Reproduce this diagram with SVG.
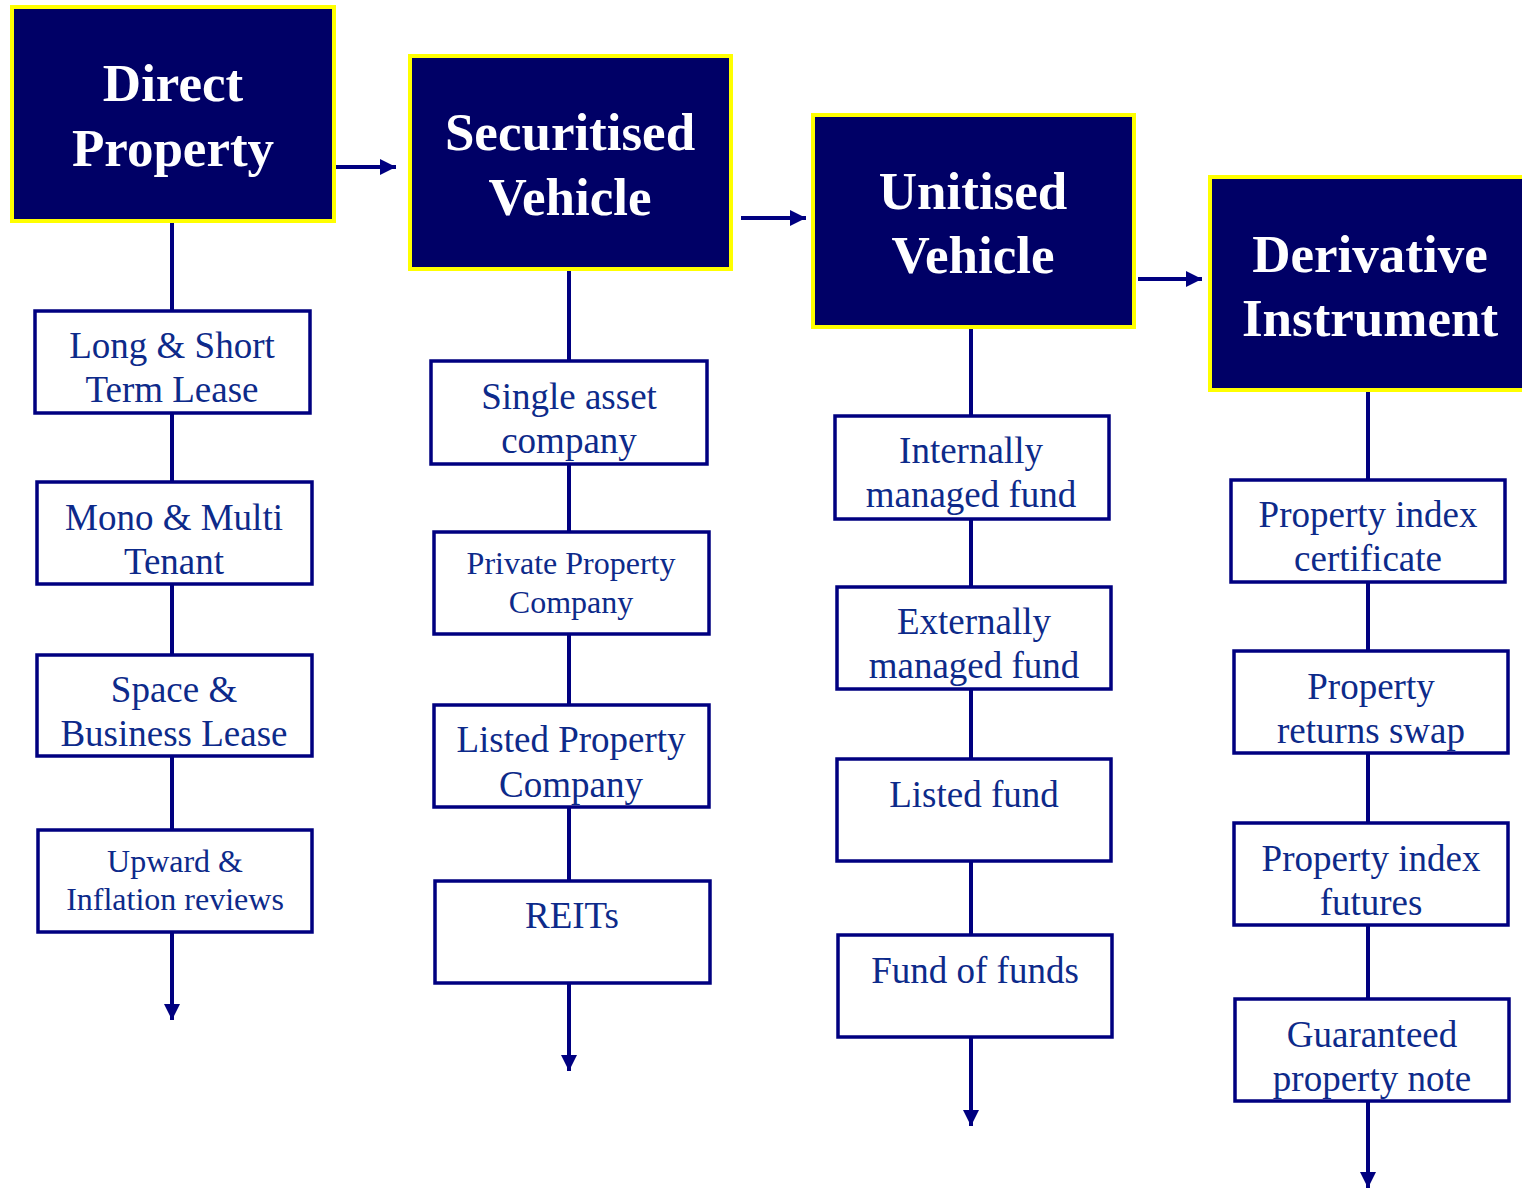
<svg xmlns="http://www.w3.org/2000/svg" width="1522" height="1189" viewBox="0 0 1522 1189">
<style>
.hdr{fill:#000066;stroke:#FFFF00;stroke-width:4}
.ht{font-family:"Liberation Serif",serif;font-weight:bold;font-size:53px;fill:#FFFFFF;text-anchor:middle}
.box{fill:#FFFFFF;stroke:#000080;stroke-width:3.5}
.bt{font-family:"Liberation Serif",serif;font-size:37px;fill:#0D2A8A;text-anchor:middle}
.bs{font-family:"Liberation Serif",serif;font-size:32px;fill:#0D2A8A;text-anchor:middle}
.ln{stroke:#000080;stroke-width:4;fill:none}
</style>
<defs>
<marker id="ah" markerUnits="userSpaceOnUse" markerWidth="16" markerHeight="16" refX="16" refY="8" orient="auto">
<path d="M0,0 L16,8 L0,16 Z" fill="#000080"/>
</marker>
</defs>
<g id="connectors">
<line class="ln" x1="334" y1="167" x2="396" y2="167" marker-end="url(#ah)"/>
<line class="ln" x1="741" y1="218" x2="806" y2="218" marker-end="url(#ah)"/>
<line class="ln" x1="1138" y1="279" x2="1202" y2="279" marker-end="url(#ah)"/>
<line class="ln" x1="172" y1="222" x2="172" y2="1020" marker-end="url(#ah)"/>
<line class="ln" x1="569" y1="270" x2="569" y2="1071" marker-end="url(#ah)"/>
<line class="ln" x1="971" y1="328" x2="971" y2="1126" marker-end="url(#ah)"/>
<line class="ln" x1="1368" y1="391" x2="1368" y2="1188" marker-end="url(#ah)"/>
</g>
<g id="direct-property">
<rect class="hdr" x="12" y="7" width="322" height="214"/>
<text class="ht" x="173" y="101">Direct</text>
<text class="ht" x="173" y="166">Property</text>
</g>
<g id="securitised-vehicle">
<rect class="hdr" x="410" y="56" width="321" height="213"/>
<text class="ht" x="570" y="150">Securitised</text>
<text class="ht" x="570" y="215">Vehicle</text>
</g>
<g id="unitised-vehicle">
<rect class="hdr" x="813" y="115" width="321" height="212"/>
<text class="ht" x="973" y="209">Unitised</text>
<text class="ht" x="973" y="273">Vehicle</text>
</g>
<g id="derivative-instrument">
<rect class="hdr" x="1210" y="177" width="330" height="213"/>
<text class="ht" x="1370" y="272">Derivative</text>
<text class="ht" x="1370" y="336">Instrument</text>
</g>
<g id="long-short">
<rect class="box" x="35" y="311" width="275" height="102"/>
<text class="bt" x="172" y="358">Long &amp; Short</text>
<text class="bt" x="172" y="402">Term Lease</text>
</g>
<g id="mono-multi">
<rect class="box" x="37" y="482" width="275" height="102"/>
<text class="bt" x="174" y="530">Mono &amp; Multi</text>
<text class="bt" x="174" y="574">Tenant</text>
</g>
<g id="space-business">
<rect class="box" x="37" y="655" width="275" height="101"/>
<text class="bt" x="174" y="702">Space &amp;</text>
<text class="bt" x="174" y="746">Business Lease</text>
</g>
<g id="upward-inflation">
<rect class="box" x="38" y="830" width="274" height="102"/>
<text class="bs" x="175" y="872">Upward &amp;</text>
<text class="bs" x="175" y="910">Inflation reviews</text>
</g>
<g id="single-asset">
<rect class="box" x="431" y="361" width="276" height="103"/>
<text class="bt" x="569" y="409">Single asset</text>
<text class="bt" x="569" y="453">company</text>
</g>
<g id="private-property">
<rect class="box" x="434" y="532" width="275" height="102"/>
<text class="bs" x="571" y="574">Private Property</text>
<text class="bs" x="571" y="613">Company</text>
</g>
<g id="listed-property">
<rect class="box" x="434" y="705" width="275" height="102"/>
<text class="bt" x="571" y="752">Listed Property</text>
<text class="bt" x="571" y="797">Company</text>
</g>
<g id="reits">
<rect class="box" x="435" y="881" width="275" height="102"/>
<text class="bt" x="572" y="928">REITs</text>
</g>
<g id="internally-managed">
<rect class="box" x="835" y="416" width="274" height="103"/>
<text class="bt" x="971" y="463">Internally</text>
<text class="bt" x="971" y="507">managed fund</text>
</g>
<g id="externally-managed">
<rect class="box" x="837" y="587" width="274" height="102"/>
<text class="bt" x="974" y="634">Externally</text>
<text class="bt" x="974" y="678">managed fund</text>
</g>
<g id="listed-fund">
<rect class="box" x="837" y="759" width="274" height="102"/>
<text class="bt" x="974" y="807">Listed fund</text>
</g>
<g id="fund-of-funds">
<rect class="box" x="838" y="935" width="274" height="102"/>
<text class="bt" x="975" y="983">Fund of funds</text>
</g>
<g id="property-index-certificate">
<rect class="box" x="1231" y="480" width="274" height="102"/>
<text class="bt" x="1368" y="527">Property index</text>
<text class="bt" x="1368" y="571">certificate</text>
</g>
<g id="property-returns-swap">
<rect class="box" x="1234" y="651" width="274" height="102"/>
<text class="bt" x="1371" y="699">Property</text>
<text class="bt" x="1371" y="743">returns swap</text>
</g>
<g id="property-index-futures">
<rect class="box" x="1234" y="823" width="274" height="102"/>
<text class="bt" x="1371" y="871">Property index</text>
<text class="bt" x="1371" y="915">futures</text>
</g>
<g id="guaranteed-property-note">
<rect class="box" x="1235" y="999" width="274" height="102"/>
<text class="bt" x="1372" y="1047">Guaranteed</text>
<text class="bt" x="1372" y="1091">property note</text>
</g>
</svg>
